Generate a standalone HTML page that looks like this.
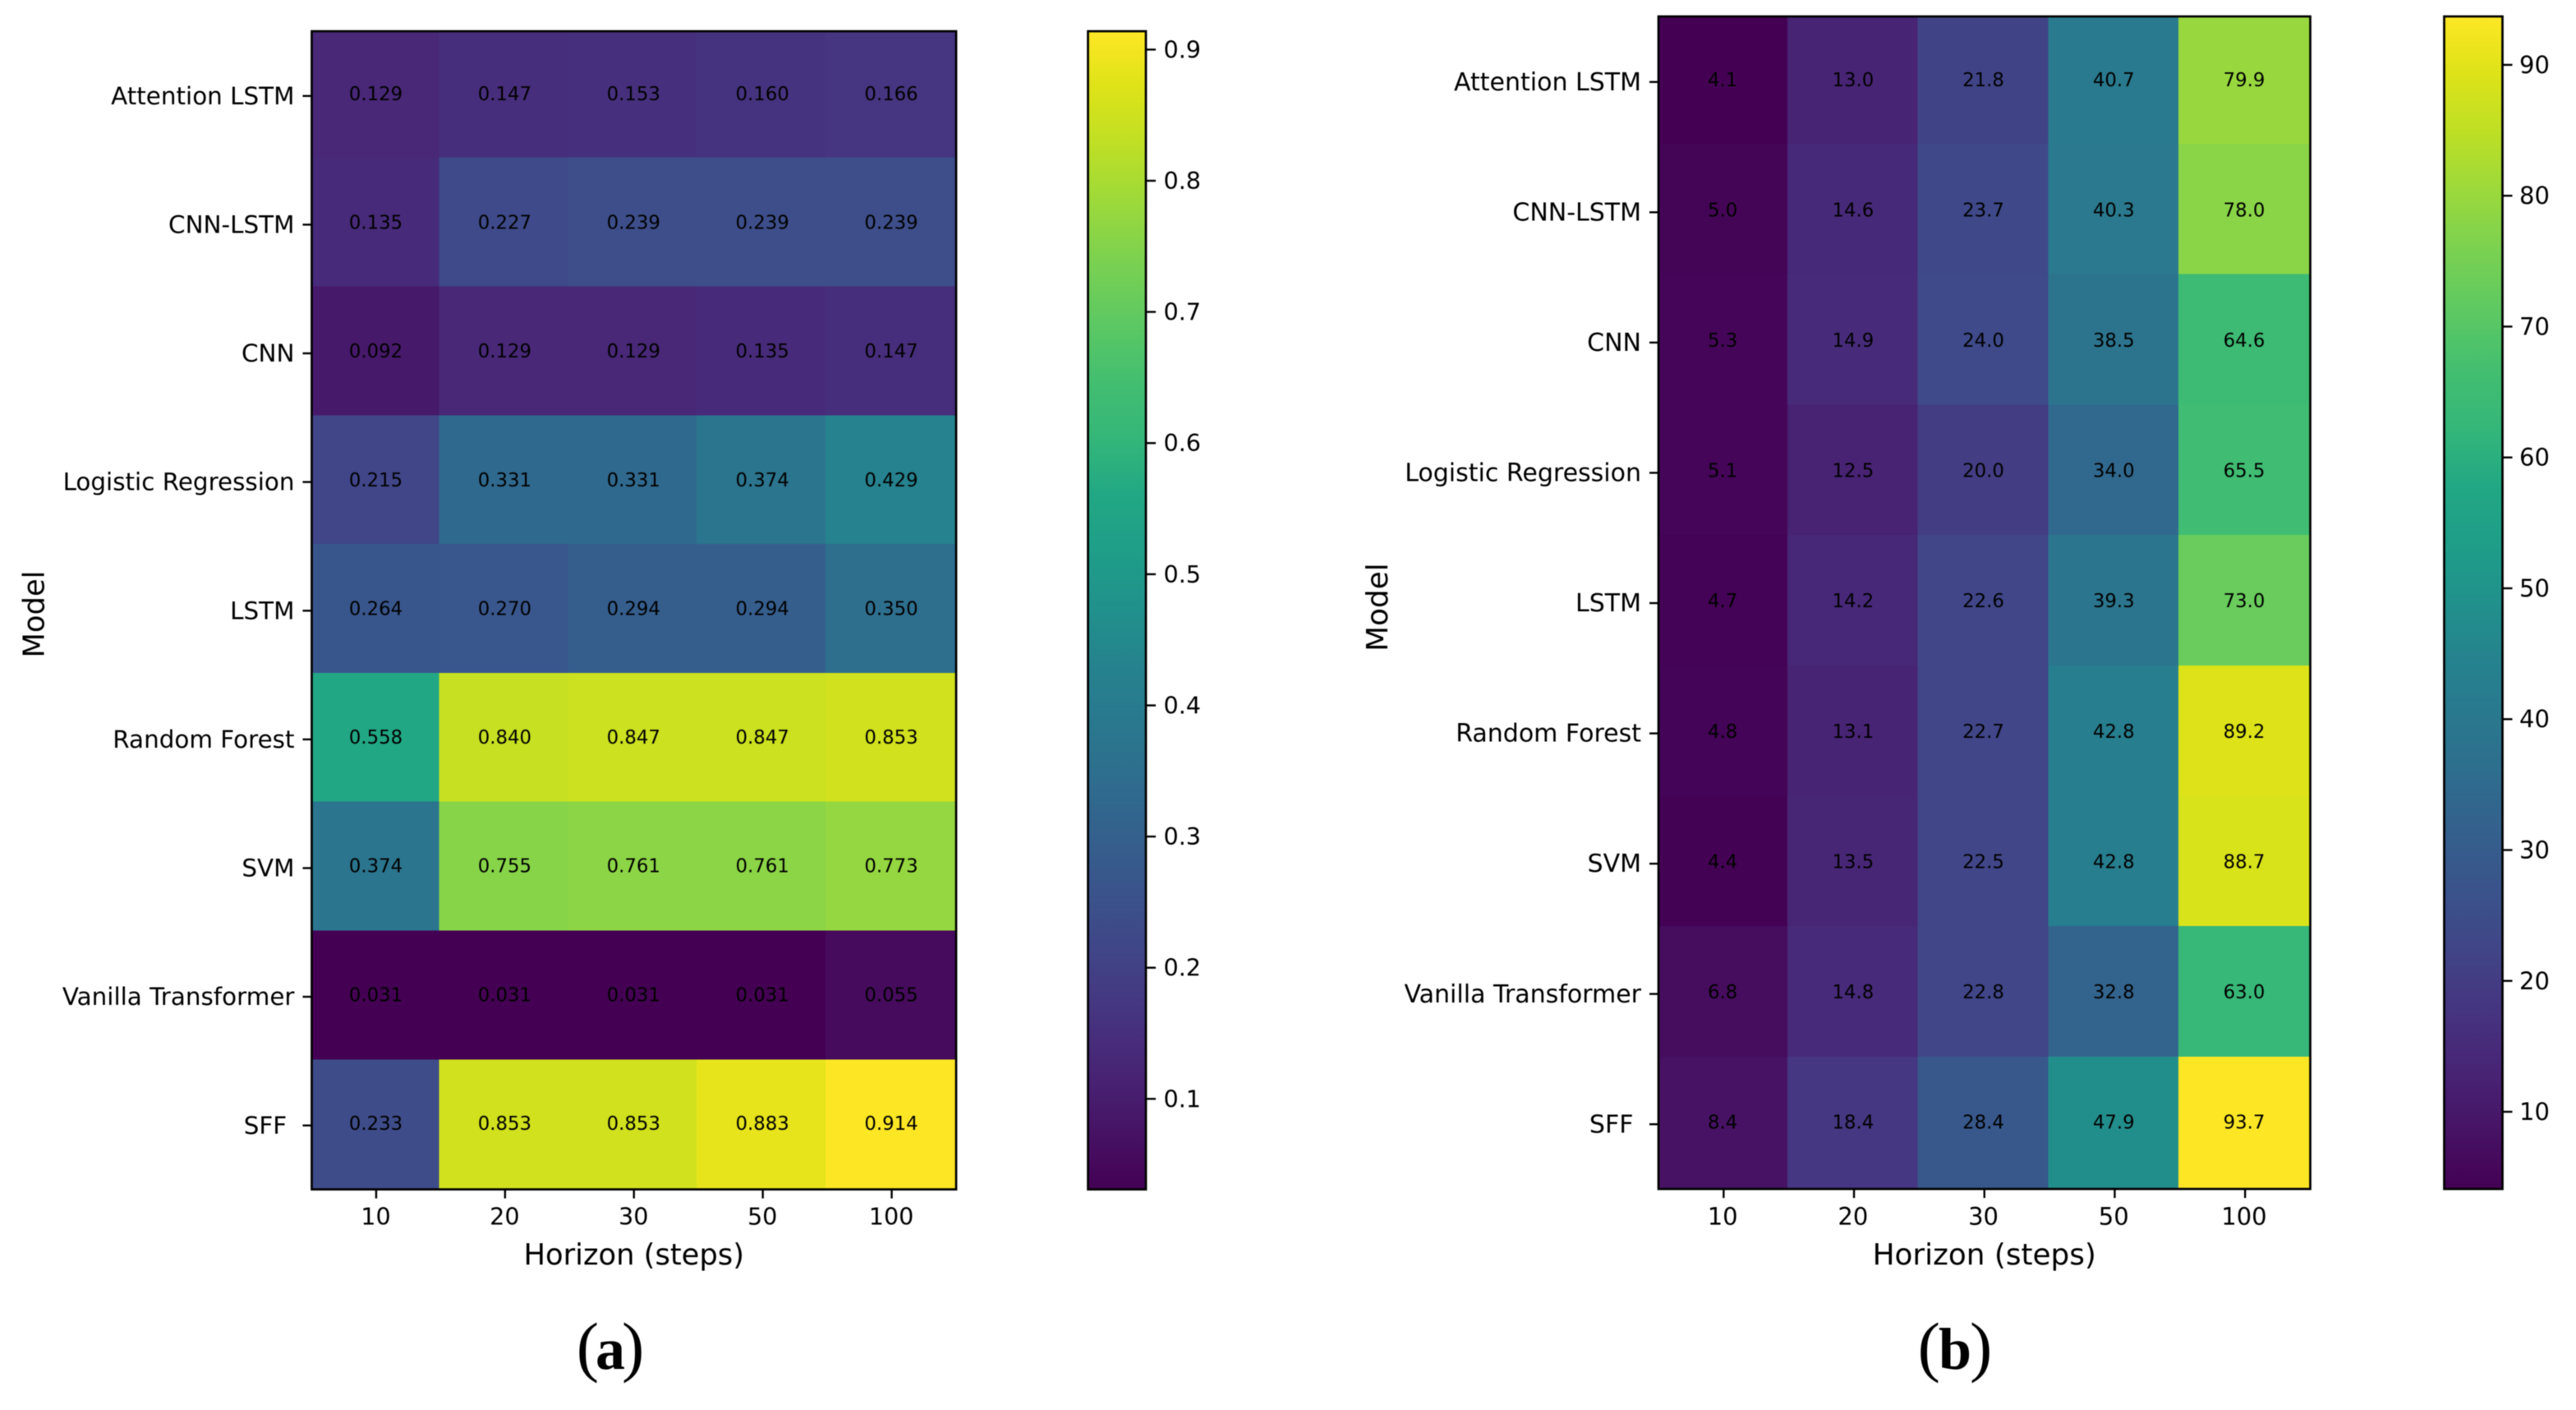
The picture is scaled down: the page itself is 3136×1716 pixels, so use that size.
<!DOCTYPE html>
<html lang="en">
<head>
<meta charset="utf-8">
<title>Model horizon heatmaps</title>
<style>
html,body{margin:0;padding:0;background:#fff;}
svg{display:block;filter:blur(0.6px);}
text{font-family:"DejaVu Sans","Liberation Sans",sans-serif;fill:#000;white-space:pre;}
.caption{font-family:"Liberation Serif",serif;font-size:82px;}
.caption .letter{font-size:72px;font-weight:bold;}
</style>
</head>
<body>
<svg id="figure" xmlns="http://www.w3.org/2000/svg" width="3136" height="1716" viewBox="0 0 3136 1716">
<rect x="0" y="0" width="3136" height="1716" fill="#ffffff"/>
<text class="caption" x="743" y="1666" text-anchor="middle">(<tspan class="letter" dx="-4">a</tspan><tspan dx="-4">)</tspan></text>
<text class="caption" x="2380" y="1666" text-anchor="middle">(<tspan class="letter" dx="-2">b</tspan><tspan dx="-2">)</tspan></text>
</svg>
<script>
const models = ["Attention LSTM","CNN-LSTM","CNN","Logistic Regression","LSTM","Random Forest","SVM","Vanilla Transformer","SFF "];
const horizons = ["10","20","30","50","100"];

const panelAValues = [
  [0.129,0.147,0.153,0.160,0.166],
  [0.135,0.227,0.239,0.239,0.239],
  [0.092,0.129,0.129,0.135,0.147],
  [0.215,0.331,0.331,0.374,0.429],
  [0.264,0.270,0.294,0.294,0.350],
  [0.558,0.840,0.847,0.847,0.853],
  [0.374,0.755,0.761,0.761,0.773],
  [0.031,0.031,0.031,0.031,0.055],
  [0.233,0.853,0.853,0.883,0.914]
];
const panelBValues = [
  [4.1,13.0,21.8,40.7,79.9],
  [5.0,14.6,23.7,40.3,78.0],
  [5.3,14.9,24.0,38.5,64.6],
  [5.1,12.5,20.0,34.0,65.5],
  [4.7,14.2,22.6,39.3,73.0],
  [4.8,13.1,22.7,42.8,89.2],
  [4.4,13.5,22.5,42.8,88.7],
  [6.8,14.8,22.8,32.8,63.0],
  [8.4,18.4,28.4,47.9,93.7]
];
const panelATicks = [0.1,0.2,0.3,0.4,0.5,0.6,0.7,0.8,0.9];
const panelBTicks = [10,20,30,40,50,60,70,80,90];

const viridisStops = ["#440154","#471365","#482475","#463480","#414487","#3b528b","#355f8d","#2f6c8e","#2a788e","#26828e","#21918c","#1f9e89","#22a884","#35b779","#44bf70","#5ec962","#7ad151","#9bd93c","#bddf26","#dde318","#fde725"];

const NS = "http://www.w3.org/2000/svg";
const svg = document.getElementById("figure");

function hexToRgb(h){return [1,3,5].map(i=>parseInt(h.substr(i,2),16));}
function viridis(t){
  t = Math.max(0,Math.min(1,t));
  const p = t*(viridisStops.length-1), i = Math.min(Math.floor(p),viridisStops.length-2), f = p-i;
  const a = hexToRgb(viridisStops[i]), b = hexToRgb(viridisStops[i+1]);
  return "rgb("+a.map((c,k)=>Math.round(c+(b[k]-c)*f)).join(",")+")";
}
function make(tag,attrs,parent,txt){
  const el = document.createElementNS(NS,tag);
  for(const k in attrs){el.setAttribute(k,attrs[k]);}
  if(txt!==undefined){el.textContent=txt;}
  (parent||svg).appendChild(el);
  return el;
}

function drawPanel(id,values,ticks,decimals,tickDecimals,box){
  const flat = values.flat();
  const vmin = Math.min(...flat), vmax = Math.max(...flat);
  const xBand = (box.x1-box.x0)/horizons.length;
  const yBand = (box.y1-box.y0)/models.length;
  const xPos = i => box.x0 + xBand*i;
  const yPos = i => box.y0 + yBand*i;
  const norm = v => (v-vmin)/(vmax-vmin);
  const cbY = v => box.y1 - norm(v)*(box.y1-box.y0);

  const cellLeft = c => c===0 ? box.x0 : box.gridX + box.gridW*c;
  const cellRight = c => c===horizons.length-1 ? box.x1 : box.gridX + box.gridW*(c+1);
  const cellTop = r => r===0 ? box.y0 : box.gridY + box.gridH*r;
  const cellBottom = r => r===models.length-1 ? box.y1 : box.gridY + box.gridH*(r+1);

  const group = make("g",{});
  
  

  values.forEach((row,r)=>{
    row.forEach((v,c)=>{
      const cell = make("rect",{x:cellLeft(c),y:cellTop(r),width:cellRight(c)-cellLeft(c)+0.5,height:cellBottom(r)-cellTop(r)+0.5,fill:viridis(norm(v)),"shape-rendering":"crispEdges"},group);
      
      
    });
  });
  values.forEach((row,r)=>{
    row.forEach((v,c)=>{
      const label = make("text",{x:xPos(c)+xBand/2+box.labelDx,y:yPos(r)+yBand/2+5.7,"text-anchor":"middle","font-size":box.cellFont,fill:"#0a0a0a"},group,v.toFixed(decimals));
      
      
    });
  });

  const frame = make("rect",{x:box.x0,y:box.y0,width:box.x1-box.x0,height:box.y1-box.y0,fill:"none",stroke:"#000","stroke-width":2.7},group);
  
  

  models.forEach((m,r)=>{
    const yc = yPos(r)+yBand/2;
    const tick = make("line",{x1:box.x0-11,x2:box.x0,y1:yc+0.5,y2:yc+0.5,stroke:"#000","stroke-width":2.4},group);
    
    
    const label = make("text",{x:box.x0-21,y:yc+10.6,"text-anchor":"end","font-size":box.yLabelFont},group,m);
    
    
  });
  horizons.forEach((h,c)=>{
    const xc = xPos(c)+xBand/2;
    const tick = make("line",{x1:xc,x2:xc,y1:box.y1,y2:box.y1+11,stroke:"#000","stroke-width":2.4},group);
    
    
    const label = make("text",{x:xc+box.labelDx,y:1490.5,"text-anchor":"middle","font-size":box.tickFont},group,h);
    
    
  });

  const xTitle = make("text",{x:(box.x0+box.x1)/2,y:1539,"text-anchor":"middle","font-size":box.titleFont},group,"Horizon (steps)");
  
  
  const yTitle = make("text",{x:0,y:0,"text-anchor":"middle","font-size":box.titleFont,transform:"translate("+box.yTitleX+" "+box.yTitleY+") rotate(-90)"},group,"Model");
  
  

  const defs = make("defs",{},group);
  const grad = make("linearGradient",{id:id+"-grad",x1:0,y1:1,x2:0,y2:0},defs);
  viridisStops.forEach((col,i)=>{
    make("stop",{offset:i/(viridisStops.length-1),"stop-color":col},grad);
  });
  const bar = make("rect",{x:box.cb0,y:box.y0,width:box.cb1-box.cb0,height:box.y1-box.y0,fill:"url(#"+id+"-grad)",stroke:"#000","stroke-width":2.7},group);
  
  
  ticks.forEach(t=>{
    const yt = cbY(t);
    const tick = make("line",{x1:box.cb1,x2:box.cb1+12,y1:yt,y2:yt,stroke:"#000","stroke-width":2.4},group);
    
    
    const label = make("text",{x:box.cbLabelX,y:yt+10,"font-size":box.tickFont},group,t.toFixed(tickDecimals));
    
    
  });
}

drawPanel("panel-a",panelAValues,panelATicks,3,1,{x0:379.5,x1:1164,y0:38,y1:1447.5,gridX:377.5,gridY:34.9,gridW:156.9,gridH:156.8,labelDx:-0.5,cb0:1324.5,cb1:1395,cbLabelX:1416.5,tickFont:28.6,yLabelFont:29.4,cellFont:22.8,titleFont:35.3,yTitleX:53.5,yTitleY:747.5});
drawPanel("panel-b",panelBValues,panelBTicks,1,0,{x0:2019,x1:2812.5,y0:20,y1:1447,gridX:2017.3,gridY:16.3,gridW:158.7,gridH:158.7,labelDx:-1.2,cb0:2975.5,cb1:3046.5,cbLabelX:3067,tickFont:29,yLabelFont:30,cellFont:22.8,titleFont:35.8,yTitleX:1689,yTitleY:739});
</script>
</body>
</html>
